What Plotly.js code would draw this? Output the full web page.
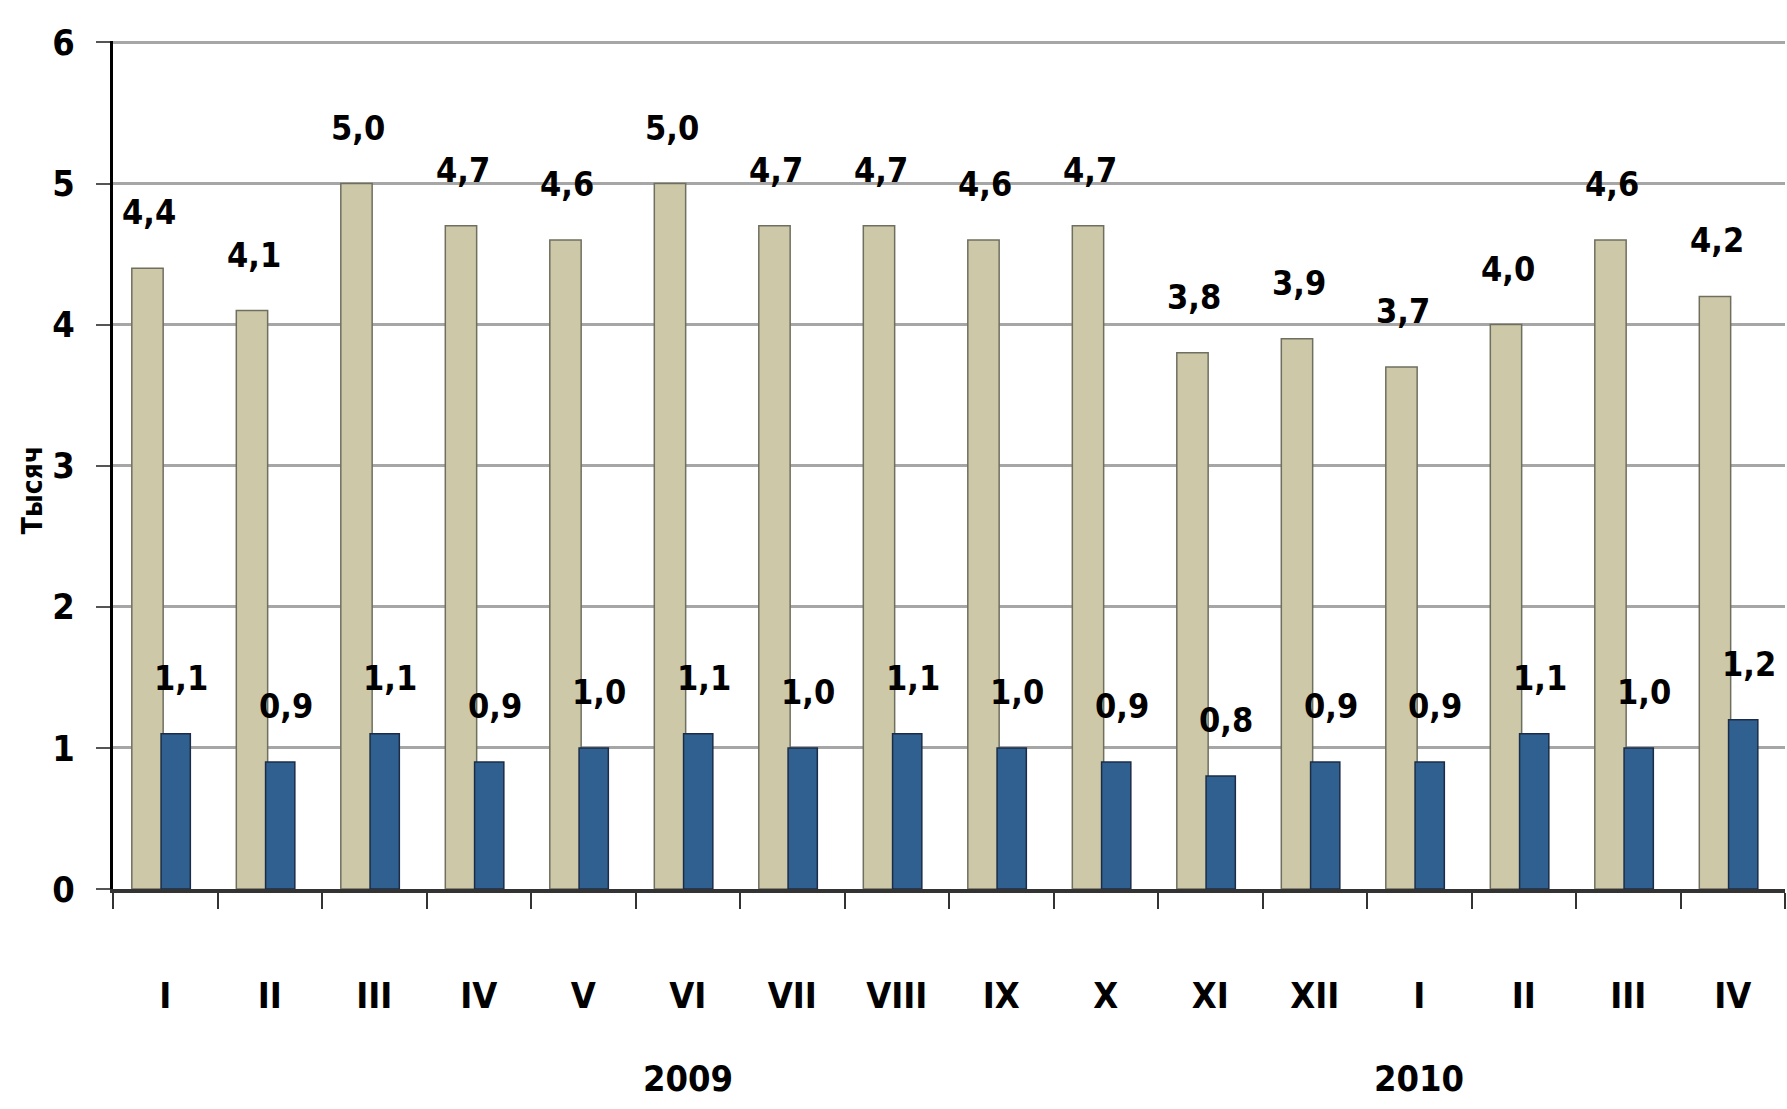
<!DOCTYPE html>
<html>
<head>
<meta charset="utf-8">
<script src="https://cdn.plot.ly/plotly-3.0.1.min.js"></script>
<style>
  html, body { margin: 0; padding: 0; background: #ffffff; }
  #chart { width: 1787px; height: 1109px; }
</style>
</head>
<body>
<div id="chart"></div>
<script>
// ---- data ----
const months = ["I","II","III","IV","V","VI","VII","VIII","IX","X","XI","XII","I","II","III","IV"];
const years = ["2009", "2010"];
const yearAt = [5, 12];          // category index under which each year label sits
const seriesA = [4.4, 4.1, 5.0, 4.7, 4.6, 5.0, 4.7, 4.7, 4.6, 4.7, 3.8, 3.9, 3.7, 4.0, 4.6, 4.2];
const seriesB = [1.1, 0.9, 1.1, 0.9, 1.0, 1.1, 1.0, 1.1, 1.0, 0.9, 0.8, 0.9, 0.9, 1.1, 1.0, 1.2];
const yTitle = "Тысяч";

const idx = months.map((_, i) => i);
const fmt = v => v.toFixed(1).replace(".", ",");
const FONT = "'DejaVu Sans Condensed', 'Liberation Sans Narrow', 'DejaVu Sans', sans-serif";
const LABEL_FONT = { family: FONT, size: 34, color: "#000", weight: "bold" };

const traces = [
  {
    type: "bar", x: idx, y: seriesA,
    width: 0.30, offset: -0.32,
    marker: { color: "#cdc9a8", line: { color: "#6f6f60", width: 1.5 } },
    hoverinfo: "skip", showlegend: false
  },
  {
    type: "bar", x: idx, y: seriesB,
    width: 0.28, offset: -0.04,
    marker: { color: "#30608f", line: { color: "#1c2c48", width: 1.5 } },
    hoverinfo: "skip", showlegend: false
  }
];

// value labels, built from the series arrays
const annotations = [];
seriesA.forEach((v, i) => annotations.push({
  text: fmt(v), x: i - 0.155, xref: "x", y: v, yref: "y",
  showarrow: false, xanchor: "center", yanchor: "bottom", yshift: 34,
  font: LABEL_FONT
}));
seriesB.forEach((v, i) => annotations.push({
  text: fmt(v), x: i + 0.155, xref: "x", y: v, yref: "y",
  showarrow: false, xanchor: "center", yanchor: "bottom", yshift: 34,
  font: LABEL_FONT
}));
years.forEach((t, k) => annotations.push({
  text: t, x: yearAt[k], xref: "x", y: -0.223, yref: "paper",
  showarrow: false, xanchor: "center", yanchor: "middle",
  font: { family: FONT, size: 36, color: "#000", weight: "bold" }
}));
annotations.push({
  text: yTitle, x: -0.048, xref: "paper", y: 0.47, yref: "paper",
  textangle: -90, showarrow: false, xanchor: "center", yanchor: "middle",
  font: { family: FONT, size: 28, color: "#000", weight: "bold" }
});

const layout = {
  width: 1787, height: 1109,
  margin: { l: 113, r: 2, t: 41, b: 220 },
  paper_bgcolor: "#ffffff", plot_bgcolor: "#ffffff",
  barmode: "overlay",
  bargap: 0,
  xaxis: {
    range: [-0.5, 15.5],
    tickvals: idx, ticktext: months,
    ticks: "", ticklabelstandoff: 72,
    tickfont: { family: FONT, size: 36, color: "#000", weight: "bold" },
    showgrid: false, zeroline: false,
    showline: true, linecolor: "#333333", linewidth: 4,
    minor: { tick0: -0.5, dtick: 1, ticks: "outside", ticklen: 16, tickwidth: 2, tickcolor: "#333333", showgrid: false }
  },
  yaxis: {
    range: [0, 6.01], tick0: 0, dtick: 1,
    ticks: "outside", ticklen: 14, tickwidth: 2, tickcolor: "#555555",
    ticklabelstandoff: 14,
    tickfont: { family: FONT, size: 36, color: "#000", weight: "bold" },
    showgrid: true, gridcolor: "#a6a6a6", gridwidth: 3,
    zeroline: false,
    showline: true, linecolor: "#000000", linewidth: 3
  },
  annotations: annotations
};

Plotly.newPlot("chart", traces, layout, { displayModeBar: false, staticPlot: true });
</script>
</body>
</html>
